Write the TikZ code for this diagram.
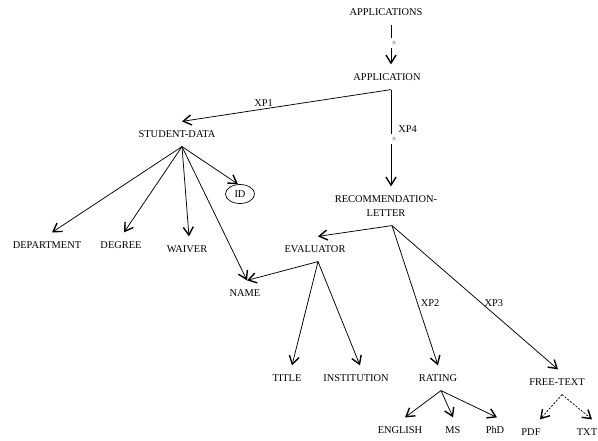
\documentclass[tikz,border=0pt]{standalone}
\usepackage{fontspec}
\setmainfont{Liberation Serif}
\usetikzlibrary{arrows.meta,shapes.geometric}
\definecolor{starmuted}{HTML}{6A6A6A}
\tikzset{
  elembox/.style={
    font=\fontsize{10.4}{14}\selectfont,
    align=center,
    inner xsep=1pt,
    inner ysep=9pt,
    text height=6.8pt,
    text depth=0pt
  },
  attrbox/.style={
    draw,
    ellipse,
    line width=0.7pt,
    font=\fontsize{10.4}{12}\selectfont,
    inner sep=0pt,
    minimum width=29pt,
    minimum height=19pt
  },
  elemarrow/.style={-{Straight Barb[length=8pt,width=10pt,line width=1.4pt]}, line width=0.75pt},
  optarrow/.style={elemarrow, dash pattern=on 2pt off 1.5pt},
  edgelabel/.style={font=\fontsize{10.4}{12}\selectfont, inner sep=1pt},
  starmark/.style={font=\normalsize, text=starmuted, fill=white, inner xsep=0pt, inner ysep=2.5pt,
    text width=7pt, align=right, xshift=2pt}
}

\begin{document}
\begin{tikzpicture}[x=1pt,y=-1pt]
\useasboundingbox (0,0) rectangle (598,441);

\node[elembox] (apps) at (386,12) {APPLICATIONS};
\node[elembox] (app) at (387,77) {APPLICATION};
\node[elembox] (sdata) at (177,134) {STUDENT-DATA};
\node[elembox, text height=20.8pt] (recl) at (386,206) {RECOMMENDATION-\\LETTER};
\node[elembox] (dept) at (47,245) {DEPARTMENT};
\node[elembox] (degree) at (121,245) {DEGREE};
\node[elembox] (waiver) at (187,249) {WAIVER};
\node[attrbox] (idattr) at (240,194) {ID};
\node[elembox] (eval) at (315,249) {EVALUATOR};
\node[elembox] (name) at (245,293) {NAME};
\node[elembox] (title) at (287,378) {TITLE};
\node[elembox] (inst) at (356,378) {INSTITUTION};
\node[elembox] (rating) at (438,378) {RATING};
\node[elembox] (free) at (557,382) {FREE-TEXT};
\node[elembox] (english) at (400,430) {ENGLISH};
\node[elembox] (ms) at (453,430) {MS};
\node[elembox] (phd) at (495,430) {PhD};
\node[elembox] (pdf) at (531,432) {PDF};
\node[elembox] (txt) at (587,432) {TXT};

% top level
\draw[elemarrow] ([xshift=5pt]apps.south) -- node[starmark, pos=0.46] {$\ast$} ([xshift=4pt]app.north);
\draw[elemarrow] ([xshift=4pt]app.south) -- node[edgelabel, pos=0.61, above=1.5pt] {XP1} ([xshift=5pt]sdata.north);
\draw[elemarrow] ([xshift=4pt]app.south) -- node[starmark, pos=0.51] {$\ast$}
  node[edgelabel, pos=0.41, right=6pt] {XP4} ([xshift=5pt]recl.north);

% student data
\draw[elemarrow] ([xshift=5pt]sdata.south) -- ([xshift=5pt]dept.north);
\draw[elemarrow] ([xshift=5pt]sdata.south) -- ([xshift=3pt]degree.north);
\draw[elemarrow] ([xshift=5pt]sdata.south) -- ([xshift=2pt]waiver.north);
\draw[elemarrow] ([xshift=5pt]sdata.south) -- ([xshift=2pt]name.north);
\draw[elemarrow] ([xshift=5pt]sdata.south) -- ([xshift=-2pt]idattr.north);

% recommendation letter
\draw[elemarrow] ([xshift=6pt]recl.south) -- ([xshift=3pt]eval.north);
\draw[elemarrow] ([xshift=6pt]recl.south) -- node[edgelabel, pos=0.553, right=2pt] {XP2} (rating.north);
\draw[elemarrow] ([xshift=6pt]recl.south) -- node[edgelabel, pos=0.538, right=2pt] {XP3} ([xshift=1pt]free.north);

\draw[elemarrow] ([xshift=3pt]eval.south) -- ([xshift=2pt]name.north);
\draw[elemarrow] ([xshift=3pt]eval.south) -- ([xshift=5pt]title.north);
\draw[elemarrow] ([xshift=3pt]eval.south) -- ([xshift=4pt]inst.north);

\draw[elemarrow] ([xshift=3pt]rating.south) -- ([xshift=5pt]english.north);
\draw[elemarrow] ([xshift=3pt]rating.south) -- (ms.north);
\draw[elemarrow] ([xshift=3pt]rating.south) -- ([xshift=2pt]phd.north);

\draw[optarrow] ([xshift=5pt]free.south) -- ([xshift=9pt]pdf.north);
\draw[optarrow] ([xshift=5pt]free.south) -- ([xshift=5pt]txt.north);
\end{tikzpicture}
\end{document}
